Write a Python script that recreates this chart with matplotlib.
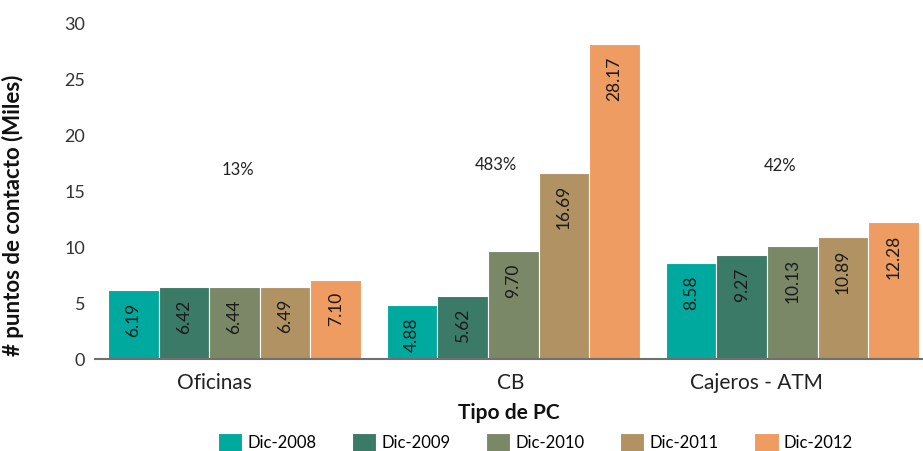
import matplotlib
matplotlib.use("Agg")
import matplotlib.pyplot as plt
import numpy as np

categories = ["Oficinas", "CB", "Cajeros - ATM"]
series_names = ["Dic-2008", "Dic-2009", "Dic-2010", "Dic-2011", "Dic-2012"]
values = {
    "Dic-2008": [6.19, 4.88, 8.58],
    "Dic-2009": [6.42, 5.62, 9.27],
    "Dic-2010": [6.44, 9.70, 10.13],
    "Dic-2011": [6.49, 16.69, 10.89],
    "Dic-2012": [7.10, 28.17, 12.28],
}
growth_labels = ["13%", "483%", "42%"]
growth_x = [0.0125, 0.937, 1.955]
growth_y = [16.9, 17.4, 17.3]
colors = ["#00A99D", "#3B7A66", "#7A8868", "#B09263", "#EF9C63"]

plt.rcParams['font.family'] = ['Lato', 'DejaVu Sans']

fig = plt.figure(figsize=(9.23, 4.51), dpi=100)
ax = fig.add_axes([95/923, 1-359/451, (922-95)/923, (359-24)/451])

x = np.arange(len(categories))
bw = 0.1814
for i, name in enumerate(series_names):
    pos = x + (i - 2) * bw
    bars = ax.bar(pos, values[name], width=bw, color=colors[i],
                  edgecolor="white", linewidth=0.8, label=name, zorder=2)
    for b, v in zip(bars, values[name]):
        ax.annotate(f"{v:.2f}", (b.get_x() + b.get_width()/2, v),
                    xytext=(0, -9), textcoords="offset points",
                    rotation=90, ha="center", va="top", fontsize=12.5,
                    color="#1a1a1a")

for gx, gy, gl in zip(growth_x, growth_y, growth_labels):
    ax.text(gx, gy, gl, ha="center", va="center", fontsize=12, color="#222222")

ax.set_xlim(-0.5, 2.465)
ax.set_ylim(0, 30)
ax.set_yticks([0, 5, 10, 15, 20, 25, 30])
# category labels sit slightly left of the group centres in the reference
ax.set_xticks(x + np.array([-0.073, -0.009, -0.127]))
ax.set_xticklabels(categories, fontsize=15, color="#222222")
ax.tick_params(axis="y", length=0, pad=7, labelsize=13, labelcolor="#333333")
ax.tick_params(axis="x", length=0, pad=10)
for s in ["top", "right", "left"]:
    ax.spines[s].set_visible(False)
ax.spines["bottom"].set_color("#707070")
ax.spines["bottom"].set_linewidth(1.5)

ax.set_ylabel("# puntos de contacto (Miles)", fontsize=16, fontweight="bold",
              color="#111111")
ax.yaxis.set_label_coords(-0.086, 0.43)
ax.set_xlabel("Tipo de PC", fontsize=15, fontweight="bold", color="#111111",
              labelpad=7)

fig.legend(loc="center", bbox_to_anchor=(0.58, 0.018), ncol=5,
           frameon=False, fontsize=12, handlelength=1.45, handleheight=1.5,
           columnspacing=2.15, handletextpad=0.3, borderpad=0)

fig.savefig("out.png", dpi=100)
